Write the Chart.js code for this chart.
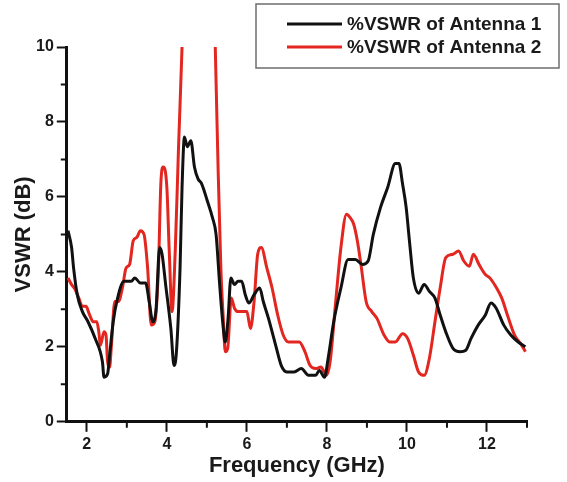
<!DOCTYPE html>
<html>
<head>
<meta charset="utf-8">
<script src="https://cdn.jsdelivr.net/npm/chart.js@4/dist/chart.umd.min.js"></script>
<style>
  html, body { margin: 0; padding: 0; background: #fff; }
  #wrap { width: 567px; height: 482px; }
</style>
</head>
<body>
<div id="wrap"><canvas id="myChart" width="567" height="482"></canvas></div>
<script>
// Antenna 1 sweep (GHz, VSWR)
var freq1 = [1.53, 1.62, 1.67, 1.76, 1.89, 2.03, 2.21, 2.39, 2.43, 2.52, 2.57, 2.66, 2.75, 2.93, 3.11, 3.20, 3.34, 3.47, 3.56, 3.65, 3.73, 3.82, 3.88, 3.97, 4.10, 4.18, 4.24, 4.33, 4.38, 4.44, 4.51, 4.60, 4.69, 4.78, 4.87, 5.01, 5.14, 5.23, 5.32, 5.41, 5.46, 5.53, 5.60, 5.69, 5.78, 5.87, 5.96, 6.05, 6.18, 6.32, 6.41, 6.54, 6.72, 6.86, 7.00, 7.18, 7.36, 7.54, 7.72, 7.81, 7.94, 8.03, 8.17, 8.35, 8.53, 8.71, 8.89, 9.03, 9.16, 9.34, 9.52, 9.71, 9.80, 9.89, 9.98, 10.07, 10.16, 10.29, 10.43, 10.56, 10.70, 10.83, 10.97, 11.15, 11.33, 11.47, 11.60, 11.78, 11.96, 12.10, 12.23, 12.42, 12.60, 12.78, 12.96];
var vswr1 = [5.10, 4.65, 4.10, 3.40, 2.94, 2.67, 2.22, 1.60, 1.19, 1.28, 1.78, 2.67, 3.21, 3.75, 3.75, 3.84, 3.70, 3.70, 3.20, 2.67, 3.00, 4.65, 4.48, 3.66, 2.49, 1.50, 1.87, 4.10, 6.26, 7.60, 7.34, 7.50, 6.80, 6.48, 6.35, 5.90, 5.45, 5.00, 3.66, 2.50, 2.13, 2.76, 3.84, 3.66, 3.75, 3.75, 3.39, 3.17, 3.39, 3.57, 3.21, 2.76, 2.04, 1.50, 1.33, 1.33, 1.42, 1.24, 1.24, 1.37, 1.19, 1.69, 2.67, 3.57, 4.33, 4.33, 4.20, 4.29, 5.00, 5.72, 6.26, 6.89, 6.89, 6.35, 5.72, 4.74, 3.84, 3.43, 3.66, 3.48, 3.30, 2.85, 2.40, 1.96, 1.87, 1.91, 2.22, 2.58, 2.85, 3.17, 3.03, 2.58, 2.31, 2.13, 2.00];

// Antenna 2 sweep (GHz, VSWR); the 4.4-5.2 GHz resonance runs off the top of the scale
var freq2 = [1.53, 1.62, 1.71, 1.80, 1.89, 1.98, 2.07, 2.16, 2.25, 2.30, 2.34, 2.43, 2.48, 2.52, 2.57, 2.61, 2.70, 2.79, 2.89, 2.98, 3.07, 3.16, 3.25, 3.34, 3.43, 3.52, 3.61, 3.70, 3.79, 3.85, 3.91, 4.00, 4.06, 4.13, 4.21, 4.29, 4.38, 4.45, 4.80, 5.15, 5.21, 5.28, 5.35, 5.41, 5.46, 5.52, 5.61, 5.69, 5.78, 5.87, 6.00, 6.09, 6.18, 6.27, 6.36, 6.50, 6.63, 6.77, 6.91, 7.04, 7.18, 7.31, 7.45, 7.58, 7.72, 7.85, 7.99, 8.08, 8.22, 8.35, 8.49, 8.58, 8.67, 8.76, 8.85, 8.98, 9.12, 9.25, 9.43, 9.57, 9.71, 9.89, 10.02, 10.16, 10.29, 10.43, 10.56, 10.70, 10.83, 10.97, 11.15, 11.29, 11.42, 11.56, 11.66, 11.80, 11.96, 12.07, 12.24, 12.37, 12.51, 12.69, 12.87, 12.96];
var vswr2 = [3.84, 3.66, 3.53, 3.30, 3.08, 3.08, 2.85, 2.67, 2.67, 2.40, 2.04, 2.40, 2.31, 1.60, 1.46, 1.96, 3.21, 3.21, 3.57, 4.10, 4.20, 4.83, 4.92, 5.10, 5.00, 4.10, 2.58, 2.67, 4.10, 6.35, 6.80, 6.26, 4.56, 2.94, 4.56, 7.25, 10.0, 12.5, 14.0, 12.5, 10.0, 6.80, 4.10, 2.76, 1.87, 1.96, 3.30, 3.03, 2.94, 2.94, 2.94, 2.49, 3.21, 4.47, 4.65, 4.10, 3.57, 2.85, 2.31, 2.13, 2.13, 2.13, 1.87, 1.50, 1.42, 1.46, 1.24, 1.60, 3.21, 4.65, 5.54, 5.45, 5.27, 4.83, 4.20, 3.21, 2.94, 2.76, 2.31, 2.13, 2.13, 2.35, 2.22, 1.78, 1.33, 1.24, 1.69, 2.67, 3.57, 4.38, 4.47, 4.56, 4.29, 4.15, 4.47, 4.20, 3.93, 3.84, 3.57, 3.30, 2.85, 2.31, 2.04, 1.87];

var seriesNames = ['%VSWR of Antenna 1', '%VSWR of Antenna 2'];
var xTicks = [2, 3, 4, 5, 6, 7, 8, 9, 10, 11, 12, 13];
var yTicks = [0, 1, 2, 3, 4, 5, 6, 7, 8, 9, 10];

function toPoints(xs, ys) {
    return xs.map(function (x, i) { return { x: x, y: ys[i] }; });
}

function isMajor(v) { return v % 2 === 0; }

Chart.defaults.font.family = '"Liberation Sans", Arial, sans-serif';
Chart.defaults.font.weight = 'bold';
Chart.defaults.color = '#1a1a1a';

// short ticks at the odd values, long ones come from the grid options
var minorTicks = {
    id: 'minorTicks',
    afterDraw: function (chart) {
        var c = chart.ctx, xs = chart.scales.x, ys = chart.scales.y;
        var area = chart.chartArea;
        c.save();
        c.strokeStyle = '#111';
        c.lineWidth = 2;
        c.beginPath();
        xs.ticks.forEach(function (t) {
            if (isMajor(t.value)) return;
            var px = xs.getPixelForValue(t.value);
            c.moveTo(px, area.bottom);
            c.lineTo(px, area.bottom + 6);
        });
        ys.ticks.forEach(function (t) {
            if (isMajor(t.value)) return;
            var py = ys.getPixelForValue(t.value);
            c.moveTo(area.left, py);
            c.lineTo(area.left - 6, py);
        });
        c.stroke();
        c.restore();
    }
};

// boxed legend in the top right corner, drawn over the plot
var boxLegend = {
    id: 'boxLegend',
    afterDraw: function (chart) {
        var c = chart.ctx;
        var x0 = 256, y0 = 4, w = 303, h = 64;
        c.save();
        c.fillStyle = '#fff';
        c.fillRect(x0, y0, w, h);
        c.strokeStyle = '#6e6e6e';
        c.lineWidth = 1.5;
        c.strokeRect(x0, y0, w, h);
        c.font = 'bold 19px "Liberation Sans", Arial, sans-serif';
        c.textBaseline = 'middle';
        chart.data.datasets.forEach(function (ds, i) {
            var y = y0 + 20 + i * 23;
            c.strokeStyle = ds.borderColor;
            c.lineWidth = 3;
            c.beginPath();
            c.moveTo(287, y);
            c.lineTo(342, y);
            c.stroke();
            c.fillStyle = '#1a1a1a';
            c.fillText(ds.label, 347, y + 1);
        });
        c.restore();
    }
};

var tickColor = function (ctx) {
    return ctx.tick && isMajor(ctx.tick.value) ? '#111' : 'rgba(0,0,0,0)';
};

var ctx = document.getElementById('myChart').getContext('2d');
var chart = new Chart(ctx, {
    type: 'line',
    data: {
        datasets: [{
            label: seriesNames[0],
            data: toPoints(freq1, vswr1),
            borderColor: '#111111',
            borderWidth: 3,
            pointRadius: 0,
            cubicInterpolationMode: 'monotone'
        }, {
            label: seriesNames[1],
            data: toPoints(freq2, vswr2),
            borderColor: '#e3261f',
            borderWidth: 3,
            pointRadius: 0,
            cubicInterpolationMode: 'monotone'
        }]
    },
    options: {
        responsive: false,
        animation: false,
        layout: { padding: { top: 47, right: 40, left: 3, bottom: 5 } },
        plugins: {
            legend: { display: false },
            tooltip: { enabled: false }
        },
        scales: {
            x: {
                type: 'linear',
                min: 1.5,
                max: 13,
                afterBuildTicks: function (scale) {
                    scale.ticks = xTicks.map(function (v) { return { value: v }; });
                },
                ticks: {
                    autoSkip: false,
                    maxRotation: 0,
                    padding: 3,
                    font: { size: 16 },
                    callback: function (v) { return isMajor(v) ? v : ''; }
                },
                grid: { drawOnChartArea: false, tickColor: tickColor, tickWidth: 2, tickLength: 10 },
                border: { color: '#111', width: 3 },
                title: { display: true, text: 'Frequency (GHz)', font: { size: 22, lineHeight: 1 }, padding: { top: -2, bottom: 0 } }
            },
            y: {
                min: 0,
                max: 10,
                afterBuildTicks: function (scale) {
                    scale.ticks = yTicks.map(function (v) { return { value: v }; });
                },
                ticks: {
                    autoSkip: false,
                    padding: 3,
                    font: { size: 16 },
                    callback: function (v) { return isMajor(v) ? v : ''; }
                },
                grid: { drawOnChartArea: false, tickColor: tickColor, tickWidth: 2, tickLength: 10 },
                border: { color: '#111', width: 3 },
                title: { display: true, text: 'VSWR (dB)', font: { size: 22, lineHeight: 1 }, padding: { top: 10, bottom: -2 } }
            }
        }
    },
    plugins: [minorTicks, boxLegend]
});
</script>
</body>
</html>
